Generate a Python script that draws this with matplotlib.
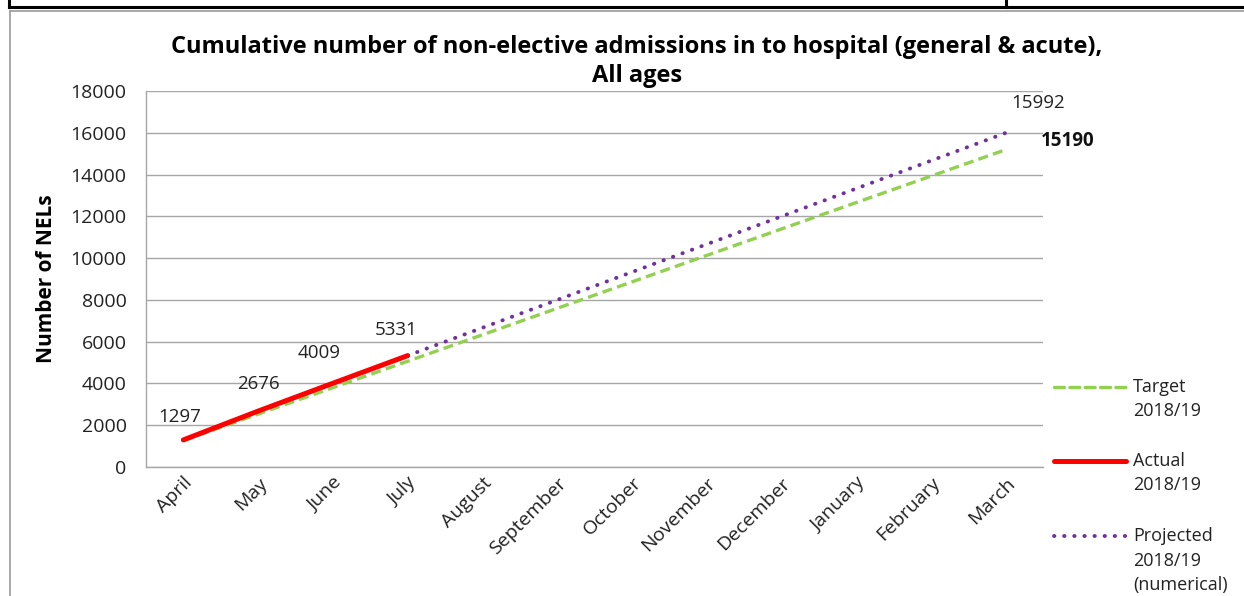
from matplotlib import pyplot as plt
from matplotlib.lines import Line2D
import numpy as np

months = ["April", "May", "June", "July", "August", "September", "October",
          "November", "December", "January", "February", "March"]
target = [1266, 2532, 3798, 5063, 6329, 7595, 8861, 10127, 11393, 12658, 13924, 15190]
actual = [1297, 2676, 4009, 5331]
projected = [5331, 6664, 7997, 9330, 10662, 11995, 13328, 14661, 15992]

GREEN = "#92d050"
RED = "#ff0000"
PURPLE = "#7030a0"
GRID = "#a6a6a6"
TXT = "#222222"

GREEN_DASH = (3, 1.6)
PURPLE_DOT = (0.1, 2.5)

plt.rcParams["font.family"] = ["Open Sans", "DejaVu Sans"]

fig = plt.figure(figsize=(12.44, 5.96), dpi=100)
ax = fig.add_axes([146 / 1244, 1 - 467 / 596, (1043 - 146) / 1244, (467 - 91) / 596])

x = np.arange(len(months))
ax.plot(x, target, color=GREEN, lw=2.4, ls=(0, GREEN_DASH), zorder=3)
ax.plot(x[3:], projected, color=PURPLE, lw=2.8, ls=(0, PURPLE_DOT),
        dash_capstyle="round", zorder=4)
ax.plot(x[:4], actual, color=RED, lw=3.6, solid_capstyle="round", zorder=5)

# value labels on the actual series
offsets = [(-4, 23), (0, 27), (-14, 30), (-11, 26)]
for i, (v, off) in enumerate(zip(actual, offsets)):
    ax.annotate(str(v), (x[i], v), xytext=off, textcoords="offset pixels",
                ha="center", va="center", fontsize=13.5, color=TXT)
ax.annotate(str(projected[-1]), (x[-1], projected[-1]), xytext=(32, 30),
            textcoords="offset pixels", ha="center", va="center",
            fontsize=13.5, color=TXT)
ax.annotate(str(target[-1]), (x[-1], target[-1]), xytext=(62, 9),
            textcoords="offset pixels", ha="center", va="center",
            fontsize=13.5, fontweight="bold", color="#111111")

ax.set_xlim(-0.5, len(months) - 0.5)
ax.set_ylim(0, 18000)
ax.set_yticks(np.arange(0, 18001, 2000))
ax.set_xticks(x)
ax.set_xticklabels(months, rotation=45, ha="right", va="top",
                   rotation_mode="anchor", fontsize=14)
ax.tick_params(axis="both", length=0, colors=TXT)
ax.tick_params(axis="y", labelsize=14, pad=14)
ax.tick_params(axis="x", pad=5)
ax.grid(axis="y", color=GRID, lw=1)
ax.set_axisbelow(True)
for side in ["top", "right"]:
    ax.spines[side].set_visible(False)
for side in ["left", "bottom"]:
    ax.spines[side].set_color(GRID)
    ax.spines[side].set_linewidth(1)

ax.set_ylabel("Number of NELs", fontsize=15, fontweight="bold", labelpad=10)

fig.text(637 / 1244, 1 - 47 / 596,
         "Cumulative number of non-elective admissions in to hospital (general & acute),",
         ha="center", va="center", fontsize=17, fontweight="bold")
fig.text(637 / 1244, 1 - 76 / 596, "All ages",
         ha="center", va="center", fontsize=17, fontweight="bold")

# legend drawn on the right of the plot area
legend_items = [
    (387, GREEN, 2.4, GREEN_DASH, ["Target", "2018/19"]),
    (461, RED, 3.6, None, ["Actual", "2018/19"]),
    (536, PURPLE, 2.8, PURPLE_DOT, ["Projected", "2018/19", "(numerical)"]),
]
for ytop, color, lw, dashes, lines in legend_items:
    yy = 1 - ytop / 596
    ln = Line2D([1054 / 1244, 1126 / 1244], [yy, yy], transform=fig.transFigure,
                color=color, lw=lw, dash_capstyle="round", solid_capstyle="round")
    if dashes is not None:
        ln.set_dashes(dashes)
    fig.add_artist(ln)
    for k, t in enumerate(lines):
        fig.text(1133 / 1244, 1 - (ytop + 24.5 * k) / 596, t, ha="left",
                 va="center", fontsize=13, color=TXT)

# surrounding frame
fig.add_artist(Line2D([9 / 1244, 1], [1 - 7 / 596] * 2, transform=fig.transFigure,
                      color="black", lw=2.2))
for xv in (9, 1006):
    fig.add_artist(Line2D([xv / 1244] * 2, [1, 1 - 7 / 596], transform=fig.transFigure,
                          color="black", lw=2.2))
fig.add_artist(Line2D([10 / 1244, 1], [1 - 11 / 596] * 2, transform=fig.transFigure,
                      color="#999999", lw=1.2))
fig.add_artist(Line2D([10 / 1244] * 2, [1 - 11 / 596, 0], transform=fig.transFigure,
                      color="#999999", lw=1.2))

fig.savefig("out.png", dpi=100)
